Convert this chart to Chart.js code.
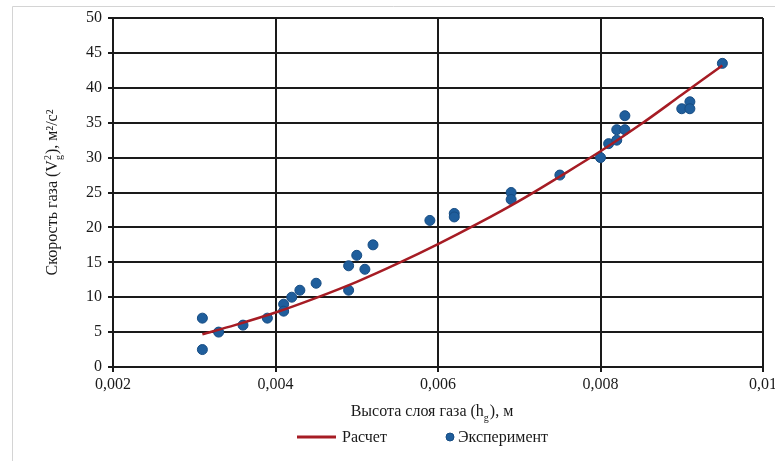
<!DOCTYPE html>
<html>
<head>
<meta charset="utf-8">
<script src="https://cdn.jsdelivr.net/npm/chart.js@4.4.1/dist/chart.umd.min.js"></script>
<style>
  html, body { margin: 0; padding: 0; background: #ffffff; }
  #wrap { position: relative; width: 775px; height: 461px; }
</style>
</head>
<body>
<div id="wrap"><canvas id="c" width="775" height="461"></canvas></div>
<script>
// Measured gas-layer height (m) and squared gas velocity (m²/s²)
const expH = [0.0031, 0.0031, 0.0033, 0.0036, 0.0039, 0.0041, 0.0041, 0.0042, 0.0043, 0.0045,
              0.0049, 0.0049, 0.0050, 0.0051, 0.0052, 0.0059, 0.0062, 0.0062, 0.0069, 0.0069,
              0.0075, 0.0080, 0.0081, 0.0082, 0.0082, 0.0083, 0.0083, 0.0090, 0.0091, 0.0091, 0.0095];
const expV = [7.0, 2.5, 5.0, 6.0, 7.0, 9.0, 8.0, 10.0, 11.0, 12.0,
              11.0, 14.5, 16.0, 14.0, 17.5, 21.0, 22.0, 21.5, 25.0, 24.0,
              27.5, 30.0, 32.0, 32.5, 34.0, 36.0, 34.0, 37.0, 38.0, 37.0, 43.5];

// Calculated curve
const calcH = [0.0031, 0.0035, 0.0040, 0.0045, 0.0050, 0.0055, 0.0060,
               0.0065, 0.0070, 0.0075, 0.0080, 0.0085, 0.0090, 0.0095];
const calcV = [4.7, 6.0, 7.8, 9.9, 12.2, 14.8, 17.6,
               20.6, 23.8, 27.3, 30.9, 34.8, 39.0, 43.2];

const seriesNames = ['Расчет', 'Эксперимент'];
const xTickLabels = ['0,002', '0,004', '0,006', '0,008', '0,01'];
const yTickLabels = ['0', '5', '10', '15', '20', '25', '30', '35', '40', '45', '50'];

// Axis titles with sub/superscripts
const xTitle = [{ t: 'Высота слоя газа (h' }, { sub: 'g' }, { t: '), м' }];
const yTitle = [{ t: 'Скорость газа (V' }, { sub: 'g', sup: '2' }, { t: '), м²/с²' }];

const FONT = '"Liberation Serif", "Times New Roman", serif';
const FS = 16;
const INK = '#1a1a1a';
const LINE_RED = '#a61c24';
const DOT_BLUE = '#1f5e9c';
const DOT_EDGE = '#174d84';

function richWidth(ctx, segs, size) {
  let w = 0;
  for (const s of segs) {
    if (s.t !== undefined) {
      ctx.font = size + 'px ' + FONT;
      w += ctx.measureText(s.t).width;
    } else {
      ctx.font = Math.round(size * 0.65) + 'px ' + FONT;
      w += Math.max(s.sub ? ctx.measureText(s.sub).width : 0,
                    s.sup ? ctx.measureText(s.sup).width : 0) + 1;
    }
  }
  return w;
}

function drawRich(ctx, segs, cx, cy, angle, size, color) {
  ctx.save();
  ctx.translate(cx, cy);
  ctx.rotate(angle);
  ctx.fillStyle = color;
  ctx.textBaseline = 'alphabetic';
  ctx.textAlign = 'left';
  const total = richWidth(ctx, segs, size);
  let x = -total / 2;
  const base = size * 0.33;
  for (const s of segs) {
    if (s.t !== undefined) {
      ctx.font = size + 'px ' + FONT;
      ctx.fillText(s.t, x, base);
      x += ctx.measureText(s.t).width;
    } else {
      const small = Math.round(size * 0.65);
      ctx.font = small + 'px ' + FONT;
      let w = 0;
      if (s.sub) { ctx.fillText(s.sub, x, base + size * 0.28); w = Math.max(w, ctx.measureText(s.sub).width); }
      if (s.sup) { ctx.fillText(s.sup, x, base - size * 0.42); w = Math.max(w, ctx.measureText(s.sup).width); }
      x += w + 1;
    }
  }
  ctx.restore();
}

const decor = {
  id: 'decor',
  beforeDraw(chart) {
    const ctx = chart.ctx;
    ctx.save();
    ctx.fillStyle = '#ffffff';
    ctx.fillRect(0, 0, chart.width, chart.height);
    ctx.strokeStyle = '#d4d4d4';
    ctx.lineWidth = 1;
    ctx.beginPath();
    ctx.moveTo(12.5, chart.height);
    ctx.lineTo(12.5, 6.5);
    ctx.lineTo(chart.width, 6.5);
    ctx.stroke();
    ctx.restore();
  },
  afterDraw(chart) {
    const ctx = chart.ctx;
    const a = chart.chartArea;
    // axis titles
    drawRich(ctx, xTitle, (a.left + a.right) / 2 - 6, a.bottom + 44, 0, FS, INK);
    drawRich(ctx, yTitle, 52, (a.top + a.bottom) / 2, -Math.PI / 2, FS, INK);

    // legend
    const ds = chart.data.datasets;
    const ly = a.bottom + 70;
    ctx.save();
    ctx.font = FS + 'px ' + FONT;
    ctx.textBaseline = 'middle';
    ctx.fillStyle = INK;
    const lineLen = 39, gap1 = 6, dotGap = 4;
    const w1 = ctx.measureText(ds[0].label).width;
    let x = a.left + 184;
    ctx.strokeStyle = ds[0].borderColor;
    ctx.lineWidth = 3;
    ctx.beginPath();
    ctx.moveTo(x, ly);
    ctx.lineTo(x + lineLen, ly);
    ctx.stroke();
    x += lineLen + gap1;
    ctx.fillText(ds[0].label, x, ly + 1);
    x = a.left + 333;
    ctx.beginPath();
    ctx.arc(x + 4, ly, 4, 0, Math.PI * 2);
    ctx.fillStyle = ds[1].backgroundColor;
    ctx.fill();
    ctx.strokeStyle = ds[1].borderColor;
    ctx.lineWidth = 1;
    ctx.stroke();
    x += 8 + dotGap;
    ctx.fillStyle = INK;
    ctx.fillText(ds[1].label, x, ly + 1);
    ctx.restore();
  }
};

const calcPts = calcH.map((h, i) => ({ x: h, y: calcV[i] }));
const expPts = expH.map((h, i) => ({ x: h, y: expV[i] }));

new Chart(document.getElementById('c'), {
  type: 'scatter',
  data: {
    datasets: [
      {
        label: seriesNames[0],
        data: calcPts,
        showLine: true,
        borderColor: LINE_RED,
        backgroundColor: LINE_RED,
        borderWidth: 2.5,
        pointRadius: 0,
        pointHoverRadius: 0,
        cubicInterpolationMode: 'monotone'
      },
      {
        label: seriesNames[1],
        data: expPts,
        showLine: false,
        backgroundColor: DOT_BLUE,
        borderColor: DOT_EDGE,
        borderWidth: 1,
        pointRadius: 5
      }
    ]
  },
  options: {
    responsive: false,
    animation: false,
    devicePixelRatio: 1,
    layout: { padding: { left: 0, right: 12, top: 18, bottom: 0 } },
    plugins: {
      legend: { display: false },
      tooltip: { enabled: false }
    },
    scales: {
      x: {
        type: 'linear',
        min: 0.002,
        max: 0.01,
        ticks: {
          stepSize: 0.002,
          padding: 3,
          color: INK,
          font: { family: FONT, size: FS },
          callback: (v, i) => xTickLabels[i]
        },
        grid: { color: INK, lineWidth: 2, tickLength: 5 },
        border: { color: INK, width: 2 },
        title: { display: false },
        afterFit(s) { s.height = 94; s.paddingLeft = 0; s.paddingRight = 0; }
      },
      y: {
        min: 0,
        max: 50,
        ticks: {
          stepSize: 5,
          padding: 6,
          color: INK,
          font: { family: FONT, size: FS },
          callback: (v, i) => yTickLabels[i]
        },
        grid: { color: INK, lineWidth: 2, tickLength: 5 },
        border: { color: INK, width: 2 },
        title: { display: false },
        afterFit(s) { s.width = 113; s.paddingTop = 0; s.paddingBottom = 0; }
      }
    }
  },
  plugins: [decor]
});
</script>
</body>
</html>
